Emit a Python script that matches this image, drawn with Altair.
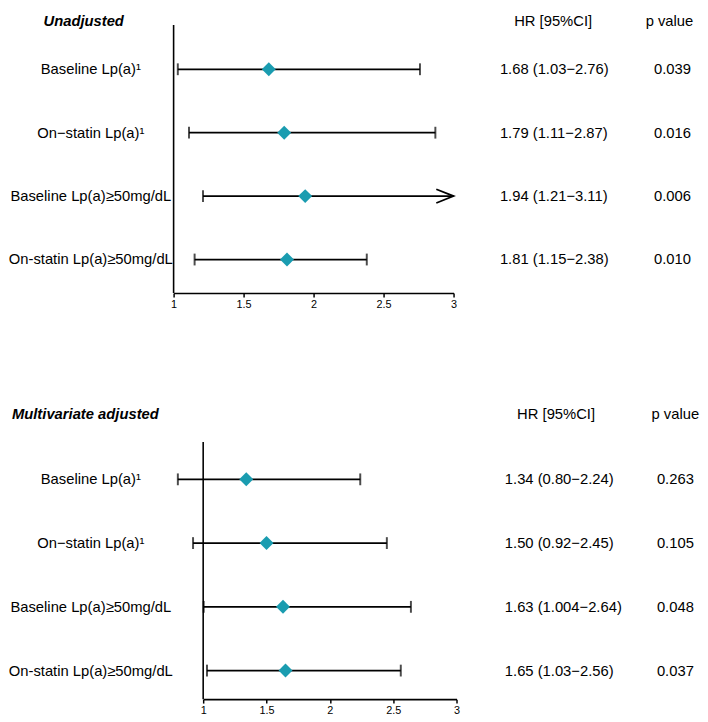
import altair as alt
import pandas as pd

FONT = "Liberation Sans"
TEAL = "#1a9cb0"

panel_titles = ["Unadjusted", "Multivariate adjusted"]
headers = ["HR [95%CI]", "p value"]
row_labels = ["Baseline Lp(a)¹", "On−statin Lp(a)¹",
              "Baseline Lp(a)≥50mg/dL", "On-statin Lp(a)≥50mg/dL"]
x_ticks = [1, 1.5, 2, 2.5, 3]

# Unadjusted
hr_top = [1.68, 1.79, 1.94, 1.81]
lo_top = [1.03, 1.11, 1.21, 1.15]
hi_top = [2.76, 2.87, 3.11, 2.38]
ci_top = ["1.68 (1.03−2.76)", "1.79 (1.11−2.87)", "1.94 (1.21−3.11)", "1.81 (1.15−2.38)"]
p_top = ["0.039", "0.016", "0.006", "0.010"]

# Multivariate adjusted
hr_bot = [1.34, 1.50, 1.63, 1.65]
lo_bot = [0.80, 0.92, 1.004, 1.03]
hi_bot = [2.24, 2.45, 2.64, 2.56]
ci_bot = ["1.34 (0.80−2.24)", "1.50 (0.92−2.45)", "1.63 (1.004−2.64)", "1.65 (1.03−2.56)"]
p_bot = ["0.263", "0.105", "0.048", "0.037"]

W = 692


def panel(title, hr, lo, hi, ci, p, xrange, yrange, height, rule_top,
          head_y, title_x, hr_x, p_x, hhr_x, hp_x, clamp):
    df = pd.DataFrame({"label": row_labels, "hr": hr, "lo": lo, "hi": hi,
                       "ci": ci, "p": p})
    x_scale = alt.Scale(domain=[1, 3], range=xrange, clamp=clamp, zero=False, nice=False)
    y_scale = alt.Scale(type="point", domain=row_labels, range=yrange, padding=0)
    axis = alt.Axis(values=x_ticks, format="~g", labelFlush=False, tickSize=4,
                    tickColor="black", tickWidth=1.5, domainColor="black",
                    domainWidth=1.6, labelFontSize=11, labelFont=FONT,
                    labelColor="black", labelPadding=2, grid=False, title=None)

    def X(f):
        return alt.X(f, scale=x_scale, axis=axis)

    base = alt.Chart(df).encode(y=alt.Y("label:N", scale=y_scale, axis=None))

    ref = alt.Chart(pd.DataFrame({"ref": [x_ticks[0]]})).mark_rule(
        color="black", strokeWidth=1.6).encode(
        x=X("ref:Q"), y=alt.value(rule_top), y2=alt.value(height))

    whisk = base.mark_rule(color="black", strokeWidth=1.8).encode(
        x=X("lo:Q"), x2="hi:Q")
    cap_lo = base.mark_tick(color="black", thickness=2, size=12,
                            orient="vertical").encode(x=X("lo:Q"))
    cap_hi = base.transform_filter(alt.datum.hi <= 3).mark_tick(
        color="black", thickness=2, size=12, orient="vertical").encode(x=X("hi:Q"))
    arrow = base.transform_filter(alt.datum.hi > 3).mark_point(
        shape="M-2.5,-1L0,0L-2.5,1", filled=False, stroke="black",
        strokeWidth=1.8, size=196, opacity=1).encode(x=X("hi:Q"))
    dots = base.mark_point(shape="diamond", filled=True, size=200,
                           color=TEAL, opacity=1).encode(x=X("hr:Q"))

    lab = base.mark_text(align="center", baseline="middle", fontSize=15,
                         font=FONT, color="black").encode(
        x=alt.value(82), text="label:N")
    ci_t = base.mark_text(align="left", baseline="middle", fontSize=15,
                          font=FONT, color="black").encode(
        x=alt.value(hr_x), text="ci:N")
    p_t = base.mark_text(align="center", baseline="middle", fontSize=15,
                         font=FONT, color="black").encode(
        x=alt.value(p_x), text="p:N")

    tdf = pd.DataFrame({"t": [title]})
    ttl = alt.Chart(tdf).mark_text(align="left", baseline="middle", fontSize=15,
                                   font=FONT, fontWeight="bold", fontStyle="italic",
                                   color="black").encode(
        x=alt.value(title_x), y=alt.value(head_y), text="t:N")
    h1 = alt.Chart(pd.DataFrame({"t": [headers[0]]})).mark_text(
        align="center", baseline="middle", fontSize=15, font=FONT,
        color="black").encode(x=alt.value(hhr_x), y=alt.value(head_y), text="t:N")
    h2 = alt.Chart(pd.DataFrame({"t": [headers[1]]})).mark_text(
        align="center", baseline="middle", fontSize=15, font=FONT,
        color="black").encode(x=alt.value(hp_x), y=alt.value(head_y), text="t:N")

    return alt.layer(ref, whisk, cap_lo, cap_hi, arrow, dots, lab, ci_t, p_t,
                     ttl, h1, h2).properties(width=W, height=height)


top = panel(panel_titles[0], hr_top, lo_top, hi_top, ci_top, p_top,
            xrange=[166, 450], yrange=[57, 250], height=284, rule_top=12,
            head_y=8, title_x=34, hr_x=497, p_x=672, hhr_x=551, hp_x=669,
            clamp=True)
bot = panel(panel_titles[1], hr_bot, lo_bot, hi_bot, ci_bot, p_bot,
            xrange=[196, 453], yrange=[81, 275], height=304, rule_top=43,
            head_y=15, title_x=2, hr_x=502, p_x=675, hhr_x=554, hp_x=675,
            clamp=False)

chart = alt.vconcat(top, bot, spacing=108, bounds="flush").properties(
    padding=0).configure_view(stroke=None)

chart.save("out.html", embed_options={"renderer": "svg", "actions": False})
